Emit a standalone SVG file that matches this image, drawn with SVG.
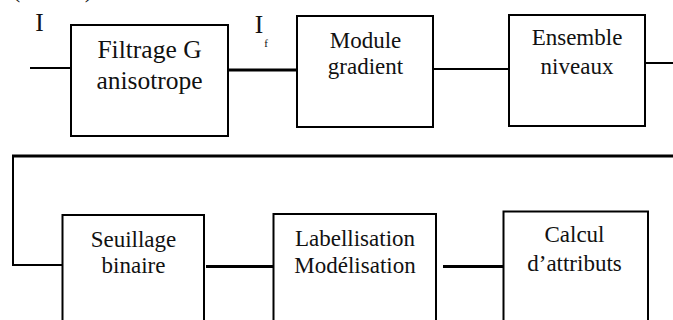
<svg xmlns="http://www.w3.org/2000/svg" width="673" height="320" viewBox="0 0 673 320">
<style>
.box{fill:#fff;stroke:#000;stroke-width:2}
.ln{fill:none;stroke:#000;stroke-width:2}
.tk{fill:none;stroke:#000;stroke-width:3}
text{font-family:"Liberation Serif","Times New Roman",serif;fill:#111;text-anchor:middle}
.t25{font-size:25.5px}
.t23{font-size:23px}
</style>
<rect width="673" height="320" fill="#fff"/>
<g id="clipped-label">
<text class="t25" x="16" y="-3">(</text>
<text class="t25" x="89" y="-3">)</text>
</g>
<g id="connectors">
<line class="ln" x1="30" y1="68" x2="71" y2="68"/>
<line class="tk" x1="228" y1="70" x2="298" y2="70"/>
<line class="ln" x1="433" y1="69" x2="509" y2="69"/>
<line class="ln" x1="643" y1="63" x2="673" y2="63"/>
<line class="tk" x1="12" y1="156" x2="673" y2="156"/>
<polyline class="ln" points="13,156 13,265 64,265"/>
<line class="tk" x1="206" y1="266.5" x2="277" y2="266.5"/>
<line class="tk" x1="443" y1="266.5" x2="505" y2="266.5"/>
</g>
<g id="label-I"><text class="t25" x="39.5" y="31">I</text></g>
<g id="label-If"><text class="t25" x="259" y="33">I</text><text x="266" y="47" style="font-size:11px">f</text></g>
<g id="filtrage">
<rect class="box" x="71" y="25" width="157" height="111"/>
<text class="t25" x="149.5" y="58">Filtrage G</text>
<text class="t25" x="149.5" y="89">anisotrope</text>
</g>
<g id="module">
<rect class="box" x="297" y="16" width="136" height="111"/>
<text class="t23" x="365.5" y="48">Module</text>
<text class="t23" x="365.5" y="74">gradient</text>
</g>
<g id="ensemble">
<rect class="box" x="509" y="15" width="136" height="111"/>
<text class="t23" x="577" y="45">Ensemble</text>
<text class="t23" x="577" y="74">niveaux</text>
</g>
<g id="seuillage">
<rect class="box" x="62.5" y="215" width="141.5" height="120"/>
<text class="t23" x="133.5" y="246.5">Seuillage</text>
<text class="t23" x="133.5" y="273">binaire</text>
</g>
<g id="labellisation">
<rect class="box" x="273.5" y="214" width="162.5" height="120"/>
<text class="t23" x="355" y="245.5">Labellisation</text>
<text class="t23" x="355" y="272.5">Modélisation</text>
</g>
<g id="calcul">
<rect class="box" x="503.5" y="211.5" width="144.5" height="120"/>
<text class="t23" x="574.5" y="241.5">Calcul</text>
<text class="t23" x="574.5" y="270.5">d’attributs</text>
</g>
</svg>
